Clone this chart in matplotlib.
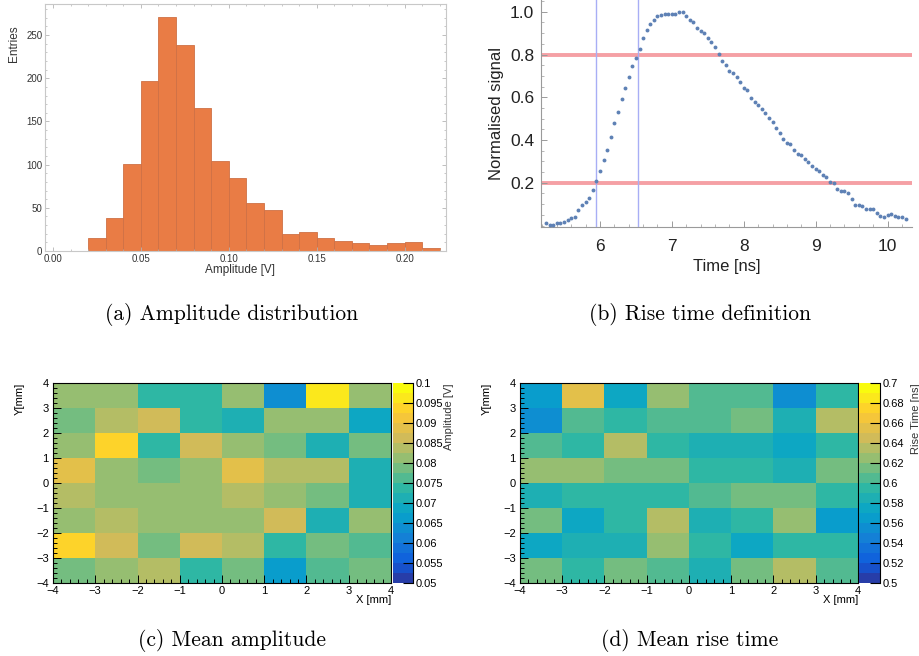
import numpy as np
import matplotlib
matplotlib.use('Agg')
import matplotlib.pyplot as plt
from matplotlib.colors import LinearSegmentedColormap, ListedColormap, BoundaryNorm
from matplotlib.ticker import MultipleLocator, FormatStrFormatter

plt.rcParams['font.family'] = ['Liberation Sans', 'DejaVu Sans']
plt.rcParams['axes.unicode_minus'] = True

# ---------------- data ----------------
# (a) amplitude histogram, bins of 0.01 V from 0.02 to 0.22
amp_edges = [0.02, 0.03, 0.04, 0.05, 0.06, 0.07, 0.08, 0.09, 0.10, 0.11, 0.12,
             0.13, 0.14, 0.15, 0.16, 0.17, 0.18, 0.19, 0.20, 0.21, 0.22]
amp_counts = [15, 38, 101, 197, 271, 238, 166, 104, 85, 55,
              47, 20, 22, 15, 12, 9, 7, 9, 10, 3]

# (b) normalised pulse
time_ns = [5.25, 5.30, 5.35, 5.40, 5.45, 5.50, 5.55, 5.60, 5.65, 5.70,
           5.75, 5.80, 5.85, 5.90, 5.95, 6.00, 6.05, 6.10, 6.15, 6.20,
           6.25, 6.30, 6.35, 6.40, 6.45, 6.50, 6.55, 6.60, 6.65, 6.70,
           6.75, 6.80, 6.85, 6.90, 6.95, 7.00, 7.05, 7.10, 7.15, 7.20,
           7.25, 7.30, 7.35, 7.40, 7.45, 7.50, 7.55, 7.60, 7.65, 7.70,
           7.75, 7.80, 7.85, 7.90, 7.95, 8.00, 8.05, 8.10, 8.15, 8.20,
           8.25, 8.30, 8.35, 8.40, 8.45, 8.50, 8.55, 8.60, 8.65, 8.70,
           8.75, 8.80, 8.85, 8.90, 8.95, 9.00, 9.05, 9.10, 9.15, 9.20,
           9.25, 9.30, 9.35, 9.40, 9.45, 9.50, 9.55, 9.60, 9.65, 9.70,
           9.75, 9.80, 9.85, 9.90, 9.95, 10.00, 10.05, 10.10, 10.15, 10.20,
           10.25]
signal = [0.010, 0.002, 0.003, 0.010, 0.011, 0.016, 0.024, 0.035, 0.040, 0.071,
          0.097, 0.110, 0.128, 0.166, 0.208, 0.255, 0.305, 0.354, 0.412, 0.479,
          0.531, 0.593, 0.644, 0.696, 0.746, 0.785, 0.827, 0.878, 0.916, 0.941,
          0.960, 0.980, 0.986, 0.990, 0.990, 0.990, 0.990, 0.997, 0.999, 0.980,
          0.961, 0.953, 0.924, 0.910, 0.902, 0.878, 0.858, 0.833, 0.802, 0.771,
          0.751, 0.723, 0.715, 0.694, 0.671, 0.644, 0.632, 0.595, 0.576, 0.564,
          0.545, 0.525, 0.501, 0.483, 0.457, 0.431, 0.406, 0.387, 0.380, 0.354,
          0.334, 0.328, 0.311, 0.297, 0.280, 0.266, 0.253, 0.235, 0.228, 0.203,
          0.197, 0.172, 0.160, 0.160, 0.153, 0.122, 0.097, 0.097, 0.091, 0.077,
          0.078, 0.078, 0.058, 0.046, 0.041, 0.050, 0.054, 0.044, 0.038, 0.040,
          0.032]
thresholds = [0.2, 0.8]
cross_times = [5.94, 6.524]

# (c) mean amplitude map [V], rows listed from y=4 (top) down to y=-4
grid_edges = [-4, -3, -2, -1, 0, 1, 2, 3, 4]
amp_map = [
    [0.0811, 0.0811, 0.0736, 0.0736, 0.0811, 0.0636, 0.0961, 0.0811],
    [0.0786, 0.0836, 0.0861, 0.0736, 0.0711, 0.0811, 0.0811, 0.0686],
    [0.0811, 0.0936, 0.0736, 0.0861, 0.0811, 0.0786, 0.0711, 0.0786],
    [0.0886, 0.0811, 0.0786, 0.0811, 0.0886, 0.0836, 0.0836, 0.0711],
    [0.0836, 0.0811, 0.0811, 0.0811, 0.0836, 0.0811, 0.0786, 0.0711],
    [0.0811, 0.0836, 0.0811, 0.0811, 0.0811, 0.0861, 0.0711, 0.0811],
    [0.0936, 0.0861, 0.0786, 0.0861, 0.0836, 0.0736, 0.0786, 0.0761],
    [0.0786, 0.0811, 0.0836, 0.0736, 0.0786, 0.0661, 0.0761, 0.0786],
]
# (d) mean rise time map [ns]
rise_map = [
    [0.565, 0.655, 0.575, 0.625, 0.605, 0.605, 0.555, 0.595],
    [0.555, 0.605, 0.595, 0.605, 0.605, 0.615, 0.585, 0.635],
    [0.605, 0.595, 0.635, 0.595, 0.585, 0.585, 0.575, 0.595],
    [0.625, 0.625, 0.615, 0.615, 0.595, 0.595, 0.585, 0.615],
    [0.585, 0.595, 0.595, 0.595, 0.605, 0.615, 0.615, 0.595],
    [0.615, 0.575, 0.595, 0.635, 0.585, 0.595, 0.625, 0.565],
    [0.575, 0.585, 0.585, 0.625, 0.595, 0.575, 0.595, 0.595],
    [0.615, 0.595, 0.615, 0.605, 0.585, 0.615, 0.635, 0.605],
]

# ROOT kBird palette, 20 contour levels
bird_stops = [0.0, 0.125, 0.25, 0.375, 0.5, 0.625, 0.75, 0.875, 1.0]
bird_r = [0.2082, 0.0592, 0.0780, 0.0232, 0.1802, 0.5301, 0.8186, 0.9956, 0.9764]
bird_g = [0.1664, 0.3599, 0.5041, 0.6419, 0.7178, 0.7492, 0.7328, 0.7862, 0.9832]
bird_b = [0.5293, 0.8684, 0.8385, 0.7914, 0.6425, 0.4662, 0.3499, 0.1968, 0.0539]
bird = LinearSegmentedColormap.from_list(
    'bird', list(zip(bird_stops, zip(bird_r, bird_g, bird_b))), N=255)
nlev = 20
bird20 = ListedColormap([bird(int((i + 0.99) * 255 / nlev)) for i in range(nlev)])

W, H = 920, 656
fig = plt.figure(figsize=(W / 100, H / 100), dpi=100)


def box(l, t, r, b):
    return [l / W, 1 - b / H, (r - l) / W, (b - t) / H]


# ---------------- (a) histogram ----------------
ax = fig.add_axes(box(45, 4, 446, 251))
ax.bar(amp_edges[:-1], amp_counts, width=np.diff(amp_edges), align='edge',
       color='#e97c45', edgecolor='#cf7145', linewidth=0.6)
ax.set_xlim(-0.0045, 0.2235)
ax.set_ylim(0, 286)
ax.xaxis.set_major_locator(MultipleLocator(0.05))
ax.xaxis.set_minor_locator(MultipleLocator(0.01))
ax.xaxis.set_major_formatter(FormatStrFormatter('%.2f'))
ax.yaxis.set_major_locator(MultipleLocator(50))
ax.yaxis.set_minor_locator(MultipleLocator(10))
for s in ax.spines.values():
    s.set_color('#c8c8c8')
    s.set_linewidth(0.8)
ax.tick_params(which='both', direction='in', top=True, right=True,
               color='#b4b4b4', labelsize=7, labelcolor='#333333', pad=2)
ax.tick_params(which='major', length=3, width=0.6)
ax.tick_params(which='minor', length=1.5, width=0.5)
fig.text(14 / W, 1 - 44 / H, 'Entries', rotation=90, ha='center', va='center',
         fontsize=8.5, color='#333333')
fig.text(240 / W, 1 - 270 / H, 'Amplitude [V]', ha='center', va='center',
         fontsize=8.5, color='#333333')

# ---------------- (b) rise time ----------------
ax = fig.add_axes(box(541, 0, 912, 227))
for thr in thresholds:
    ax.axhline(thr, color='#f5a0a5', lw=2.8, zorder=1)
for tc in cross_times:
    ax.axvline(tc, color='#a8aef5', lw=1.0, zorder=1)
ax.plot(time_ns, signal, 'o', color='#5e81b5', markersize=2.8,
        markeredgewidth=0, zorder=3)
ax.set_xlim(5.18, 10.34)
ax.set_ylim(-0.0068, 1.055)
ax.set_xticks([6, 7, 8, 9, 10])
ax.set_yticks([0.2, 0.4, 0.6, 0.8, 1.0])
ax.xaxis.set_minor_locator(MultipleLocator(0.2))
ax.yaxis.set_minor_locator(MultipleLocator(0.05))
ax.yaxis.set_major_formatter(FormatStrFormatter('%.1f'))
ax.spines['top'].set_visible(False)
ax.spines['right'].set_visible(False)
for s in ('left', 'bottom'):
    ax.spines[s].set_color('#9a9a9a')
    ax.spines[s].set_linewidth(0.8)
ax.tick_params(which='both', direction='in', color='#9a9a9a',
               labelsize=12.5, labelcolor='#222222')
ax.tick_params(which='major', length=4, width=0.7)
ax.tick_params(which='minor', length=2, width=0.5)
ax.tick_params(axis='x', pad=9)
ax.tick_params(axis='y', pad=5)
ax.set_xlabel('Time [ns]', fontsize=12, color='#222222', labelpad=3)
ax.set_ylabel('Normalised signal', fontsize=12, color='#222222', labelpad=4)


# ---------------- (c), (d) maps ----------------
def root_map(l, r, cbl, cbr, data, vmin, vmax, tick_step, cbar_title, ylab_x):
    levels = np.linspace(vmin, vmax, nlev + 1)
    norm = BoundaryNorm(levels, nlev)
    ax = fig.add_axes(box(l, 383, r, 583))
    mesh = ax.pcolormesh(grid_edges, grid_edges, np.flipud(np.array(data)),
                         cmap=bird20, norm=norm, shading='flat')
    ax.set_xlim(-4, 4)
    ax.set_ylim(-4, 4)
    ax.xaxis.set_major_locator(MultipleLocator(1))
    ax.xaxis.set_minor_locator(MultipleLocator(0.2))
    ax.yaxis.set_major_locator(MultipleLocator(1))
    ax.yaxis.set_minor_locator(MultipleLocator(0.2))
    for s in ax.spines.values():
        s.set_linewidth(0.8)
    ax.tick_params(which='both', direction='in', labelsize=8, width=0.7)
    ax.tick_params(which='major', length=6)
    ax.tick_params(which='minor', length=3)
    ax.tick_params(axis='x', pad=2.5)
    ax.tick_params(axis='y', pad=3)
    fig.text(r / W, 1 - 600 / H, 'X [mm]', ha='right', va='center', fontsize=8)
    fig.text(ylab_x / W, 1 - 383 / H, 'Y[mm]', ha='center', va='top',
             rotation=90, fontsize=8)

    cax = fig.add_axes(box(cbl, 383, cbr, 583))
    cb = fig.colorbar(mesh, cax=cax, ticks=np.arange(vmin, vmax + tick_step / 2, tick_step))
    cb.outline.set_visible(False)
    cax.spines['right'].set_visible(True)
    cax.spines['right'].set_linewidth(0.8)
    cax.yaxis.set_ticks_position('right')
    cax.yaxis.set_major_formatter(FormatStrFormatter('%g'))
    cax.tick_params(direction='in', length=7, width=0.8, labelsize=8, pad=2)
    cax.minorticks_off()
    fig.text((cbr + 36) / W, 1 - 383 / H, cbar_title, rotation=90,
             ha='center', va='top', fontsize=8, color='#333333')


root_map(53, 391, 393, 413, amp_map, 0.05, 0.10, 0.005, 'Amplitude [V]', 20)
root_map(520, 858, 859.5, 880, rise_map, 0.5, 0.7, 0.02, 'Rise Time [ns]', 487)

# ---------------- captions ----------------
cap = dict(ha='center', va='center', fontsize=15.5, family='cmr10')
fig.text(232 / W, 1 - 314 / H, '(a) Amplitude distribution', **cap)
fig.text(700 / W, 1 - 314 / H, '(b) Rise time definition', **cap)
fig.text(232 / W, 1 - 640 / H, '(c) Mean amplitude', **cap)
fig.text(690 / W, 1 - 640 / H, '(d) Mean rise time', **cap)

fig.savefig('out.png', dpi=100)
